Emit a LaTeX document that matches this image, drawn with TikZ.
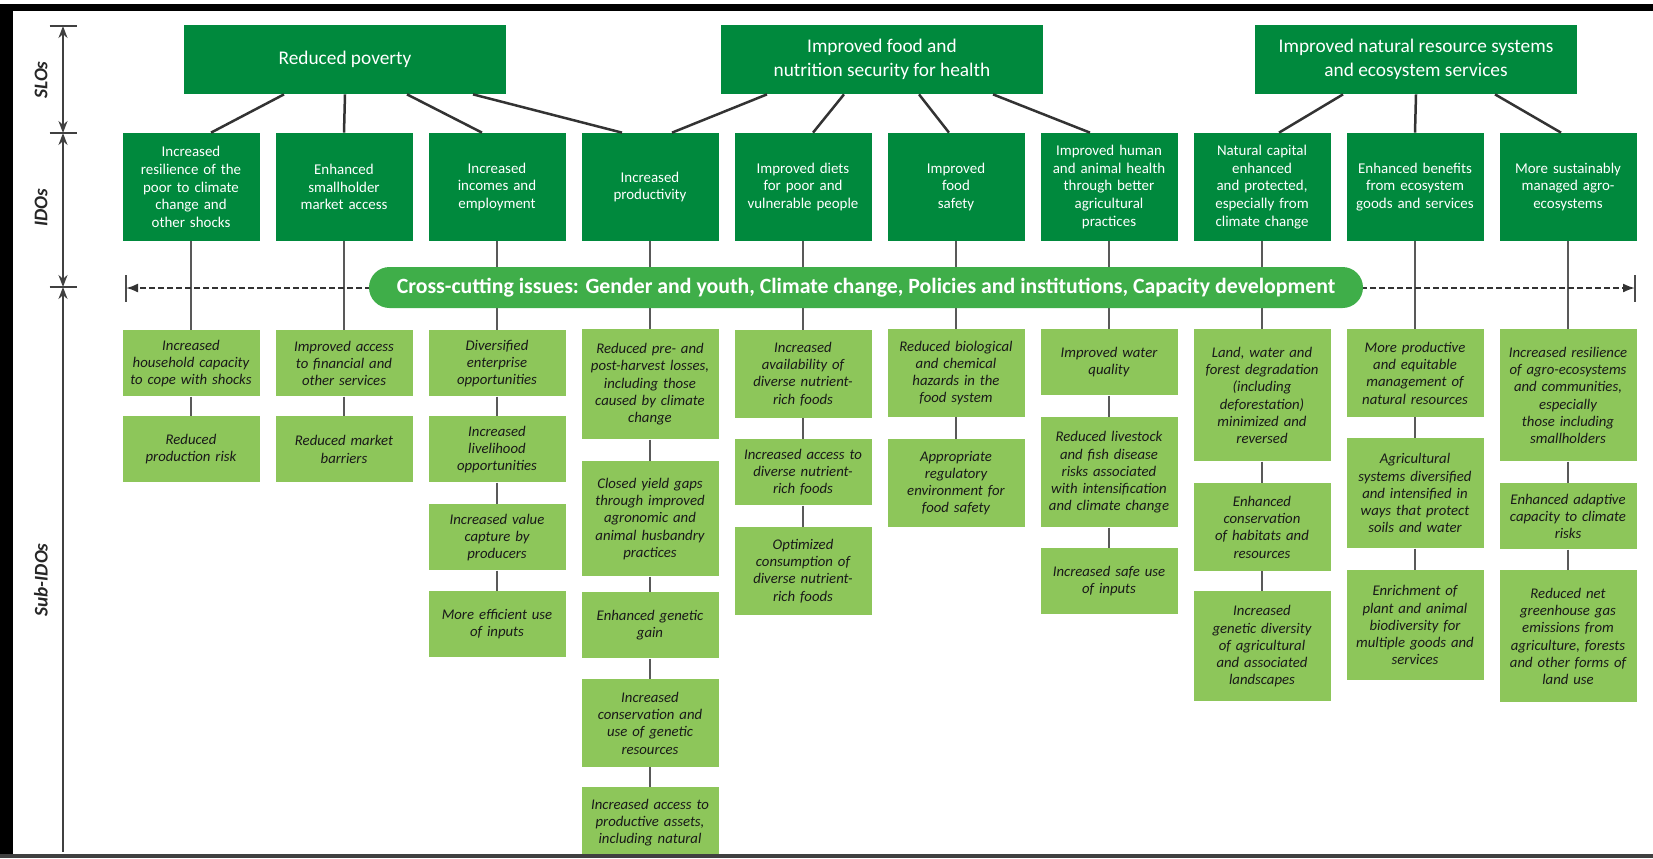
\documentclass[tikz,border=0pt]{standalone}
\usepackage{fontspec}
\setmainfont{Carlito}
\usepackage{tikz}
\usetikzlibrary{arrows.meta,calc}
\definecolor{cgdark}{HTML}{00893D}
\definecolor{cgbar}{HTML}{3FAE49}
\definecolor{cglight}{HTML}{8DC65A}

\begin{document}
\begin{tikzpicture}[x=0.2mm, y=-0.2mm,
  slo/.style={fill=cgdark, text=white, minimum width=64.4mm, minimum height=13.8mm,
    inner sep=0pt, align=center, font=\fontsize{11}{14}\selectfont},
  ido/.style={fill=cgdark, text=white, text width=25.4mm, inner xsep=1mm,
    minimum height=21.6mm, align=center, font=\fontsize{8.5}{10}\selectfont},
  sub/.style={fill=cglight, text=black!90, anchor=north, text width=26.4mm,
    inner xsep=0.5mm, inner ysep=0pt, align=center,
    font=\fontsize{8.4}{9.8}\selectfont\itshape},
  s2/.style={sub, minimum height=13.2mm},
  s4/.style={sub, minimum height=17.5mm},
  s5/.style={sub, minimum height=22mm},
  s6/.style={sub, minimum height=26.4mm},
  cross/.style={fill=cgbar, text=white, rounded corners=4.1mm, minimum width=198.8mm,
    minimum height=8.2mm, inner sep=0pt, font=\fontsize{12.4}{14}\selectfont\bfseries},
  lnk/.style={draw=black!80, line width=0.5mm},
  vlnk/.style={draw=black!65, line width=0.4mm},
  dashline/.style={draw=black!80, line width=0.4mm, dash pattern=on 1.2mm off 0.6mm,
    -{Latex[length=2.4mm, width=1.8mm]}},
  endtick/.style={draw=black!70, line width=0.3mm},
  axis/.style={draw=black!75, line width=0.4mm},
  darr/.style={{Stealth[length=2.4mm, width=1.8mm]}-{Stealth[length=2.4mm, width=1.8mm]}},
  axlbl/.style={rotate=90, text=black!85, font=\fontsize{11}{13}\selectfont\bfseries\itshape}
]
  \useasboundingbox (0,0) rectangle (1653,858);

  % SLOs
  \node[slo] (slo1) at (345,59.5) {Reduced poverty};
  \node[slo] (slo2) at (882,59.5) {Improved food and\\nutrition security for health};
  \node[slo] (slo3) at (1416,59.5) {Improved natural resource systems\\and ecosystem services};

  % IDOs
  \node[ido] (ido1)  at (191,187)  {Increased\\resilience of the\\poor to climate\\change and\\other shocks};
  \node[ido] (ido2)  at (344,187)  {Enhanced\\smallholder\\market access};
  \node[ido] (ido3)  at (497,187)  {Increased\\incomes and\\employment};
  \node[ido] (ido4)  at (650,187)  {Increased\\productivity};
  \node[ido] (ido5)  at (803,187)  {Improved diets\\for poor and\\vulnerable people};
  \node[ido] (ido6)  at (956,187)  {Improved\\food\\safety};
  \node[ido] (ido7)  at (1109,187) {Improved human\\and animal health\\through better\\agricultural\\practices};
  \node[ido] (ido8)  at (1262,187) {Natural capital\\enhanced\\and protected,\\especially from\\climate change};
  \node[ido] (ido9)  at (1415,187) {Enhanced benefits\\from ecosystem\\goods and services};
  \node[ido] (ido10) at (1568,187) {More sustainably\\managed agro-\\ecosystems};

  % SLO -> IDO links
  \draw[lnk] ($(slo1.south)+(-61,0)$) -- ($(ido1.north)+(20,0)$);
  \draw[lnk] (slo1.south) -- (ido2.north);
  \draw[lnk] ($(slo1.south)+(62,0)$) -- ($(ido3.north)+(-15,0)$);
  \draw[lnk] ($(slo1.south)+(128,0)$) -- ($(ido4.north)+(-28,0)$);
  \draw[lnk] ($(slo2.south)+(-115,0)$) -- ($(ido4.north)+(22,0)$);
  \draw[lnk] ($(slo2.south)+(-38,0)$) -- ($(ido5.north)+(10,0)$);
  \draw[lnk] ($(slo2.south)+(37,0)$) -- ($(ido6.north)+(-7,0)$);
  \draw[lnk] ($(slo2.south)+(111,0)$) -- ($(ido7.north)+(-19,0)$);
  \draw[lnk] ($(slo3.south)+(-73,0)$) -- ($(ido8.north)+(17,0)$);
  \draw[lnk] (slo3.south) -- (ido9.north);
  \draw[lnk] ($(slo3.south)+(79,0)$) -- ($(ido10.north)+(-7,0)$);

  % sub-IDOs
  \node[s2] (c1a) at (191,330) {Increased\\household capacity\\to cope with shocks};
  \node[s2] (c1b) at (191,416) {Reduced\\production risk};

  \node[s2] (c2a) at (344,330) {Improved access\\to financial and\\other services};
  \node[s2] (c2b) at (344,416) {Reduced market\\barriers};

  \node[s2] (c3a) at (497,330) {Diversified\\enterprise\\opportunities};
  \node[s2] (c3b) at (497,416) {Increased\\livelihood\\opportunities};
  \node[s2] (c3c) at (497,504) {Increased value\\capture by\\producers};
  \node[s2] (c3d) at (497,591) {More efficient use\\of inputs};

  \node[s5] (c4a) at (650,329) {Reduced pre- and\\post-harvest losses,\\including those\\caused by climate\\change};
  \node[s5, minimum height=23mm] (c4b) at (650,461) {Closed yield gaps\\through improved\\agronomic and\\animal husbandry\\practices};
  \node[s2] (c4c) at (650,592) {Enhanced genetic\\gain};
  \node[s4] (c4d) at (650,679) {Increased\\conservation and\\use of genetic\\resources};
  \node[s2, minimum height=14mm] (c4e) at (650,787) {Increased access to\\productive assets,\\including natural};

  \node[s4] (c5a) at (803,330) {Increased\\availability of\\diverse nutrient-\\rich foods};
  \node[s2] (c5b) at (803,439) {Increased access to\\diverse nutrient-\\rich foods};
  \node[s4] (c5c) at (803,527) {Optimized\\consumption of\\diverse nutrient-\\rich foods};

  \node[s4] (c6a) at (956,329) {Reduced biological\\and chemical\\hazards in the\\food system};
  \node[s4] (c6b) at (956,439) {Appropriate\\regulatory\\environment for\\food safety};

  \node[s2] (c7a) at (1109,329) {Improved water\\quality};
  \node[s5] (c7b) at (1109,417) {Reduced livestock\\and fish disease\\risks associated\\with intensification\\and climate change};
  \node[s2] (c7c) at (1109,548) {Increased safe use\\of inputs};

  \node[s6] (c8a) at (1262,329) {Land, water and\\forest degradation\\(including\\deforestation)\\minimized and\\reversed};
  \node[s4] (c8b) at (1262,483) {Enhanced\\conservation\\of habitats and\\resources};
  \node[s5] (c8c) at (1262,591) {Increased\\genetic diversity\\of agricultural\\and associated\\landscapes};

  \node[s4] (c9a) at (1415,329) {More productive\\and equitable\\management of\\natural resources};
  \node[s5] (c9b) at (1415,438) {Agricultural\\systems diversified\\and intensified in\\ways that protect\\soils and water};
  \node[s5] (c9c) at (1415,570) {Enrichment of\\plant and animal\\biodiversity for\\multiple goods and\\services};

  \node[s6] (c10a) at (1568,329) {Increased resilience\\of agro-ecosystems\\and communities,\\especially\\those including\\smallholders};
  \node[s2] (c10b) at (1568,483) {Enhanced adaptive\\capacity to climate\\risks};
  \node[s6] (c10c) at (1568,570) {Reduced net\\greenhouse gas\\emissions from\\agriculture, forests\\and other forms of\\land use};

  % vertical links
  \draw[vlnk] (ido1.south) -- (c1a.north);  \draw[vlnk] (c1a.south) -- (c1b.north);
  \draw[vlnk] (ido2.south) -- (c2a.north);  \draw[vlnk] (c2a.south) -- (c2b.north);
  \draw[vlnk] (ido3.south) -- (c3a.north);  \draw[vlnk] (c3a.south) -- (c3b.north);
  \draw[vlnk] (c3b.south) -- (c3c.north);   \draw[vlnk] (c3c.south) -- (c3d.north);
  \draw[vlnk] (ido4.south) -- (c4a.north);  \draw[vlnk] (c4a.south) -- (c4b.north);
  \draw[vlnk] (c4b.south) -- (c4c.north);   \draw[vlnk] (c4c.south) -- (c4d.north);
  \draw[vlnk] (c4d.south) -- (c4e.north);
  \draw[vlnk] (ido5.south) -- (c5a.north);  \draw[vlnk] (c5a.south) -- (c5b.north);
  \draw[vlnk] (c5b.south) -- (c5c.north);
  \draw[vlnk] (ido6.south) -- (c6a.north);  \draw[vlnk] (c6a.south) -- (c6b.north);
  \draw[vlnk] (ido7.south) -- (c7a.north);  \draw[vlnk] (c7a.south) -- (c7b.north);
  \draw[vlnk] (c7b.south) -- (c7c.north);
  \draw[vlnk] (ido8.south) -- (c8a.north);  \draw[vlnk] (c8a.south) -- (c8b.north);
  \draw[vlnk] (c8b.south) -- (c8c.north);
  \draw[vlnk] (ido9.south) -- (c9a.north);  \draw[vlnk] (c9a.south) -- (c9b.north);
  \draw[vlnk] (c9b.south) -- (c9c.north);
  \draw[vlnk] (ido10.south) -- (c10a.north); \draw[vlnk] (c10a.south) -- (c10b.north);
  \draw[vlnk] (c10b.south) -- (c10c.north);

  % cross-cutting bar
  \coordinate (lend) at (126,288);
  \coordinate (rend) at (1635,288);
  \draw[dashline] (866,288) -- (lend);
  \draw[dashline] (866,288) -- (rend);
  \draw[endtick] ([yshift=-2.7mm]lend) -- ([yshift=2.7mm]lend);
  \draw[endtick] ([yshift=-2.7mm]rend) -- ([yshift=2.7mm]rend);
  \node[cross] (bar) at (866,287.5)
    {Cross-cutting issues: Gender and youth, Climate change, Policies and institutions, Capacity development};

  % level axis
  \coordinate (ax0) at (63,26);
  \coordinate (ax1) at (63,133);
  \coordinate (ax2) at (63,287);
  \coordinate (ax3) at (63,852);
  \draw[axis] ([xshift=-2.7mm]ax0) -- ([xshift=2.7mm]ax0);
  \draw[axis] ([xshift=-2.7mm]ax1) -- ([xshift=2.7mm]ax1);
  \draw[axis] ([xshift=-2.7mm]ax2) -- ([xshift=2.7mm]ax2);
  \draw[axis, darr] (ax0) -- (ax1);
  \draw[axis, darr] (ax1) -- (ax2);
  \draw[axis, {Stealth[length=2.4mm, width=1.8mm]}-] (ax2) -- (ax3);
  \node[axlbl] (lslo) at (41,80) {SLOs};
  \node[axlbl] (lido) at (41,208) {IDOs};
  \node[axlbl] (lsub) at (41,580) {Sub-IDOs};

  % frame
  \fill[black] (0,4) rectangle (1653,11);
  \fill[black] (0,4) rectangle (13,858);
  \draw[black!75, line width=0.8mm] (0,856) -- (1653,856);
\end{tikzpicture}
\end{document}
